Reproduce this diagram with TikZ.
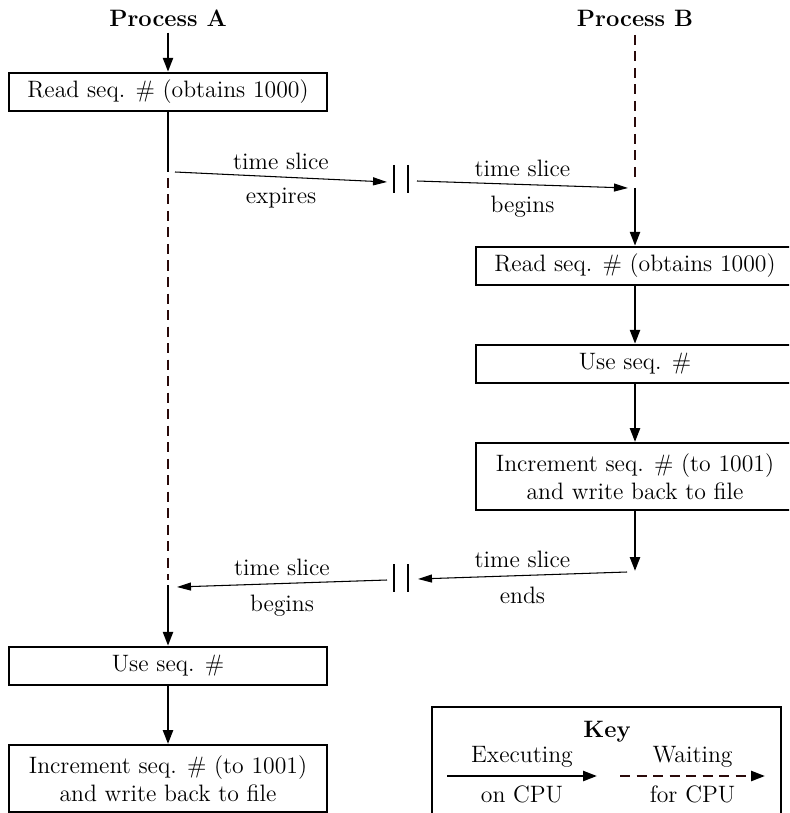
\documentclass[tikz,border=0pt]{standalone}
\usepackage{xcolor}
\definecolor{waitcolor}{HTML}{2A0A0A}
\usepackage{tikz}
\usetikzlibrary{positioning, calc, arrows.meta}

\begin{document}
\begin{tikzpicture}[
  font=\fontsize{13.5}{16}\selectfont,
  box/.style={draw, line width=1.1pt, minimum width=6.36cm, minimum height=#1,
    inner sep=0pt, align=center},
  box/.default=0.77cm,
  arr/.style={-{Triangle[length=0.28cm, width=0.2cm]}, line width=1.4pt},
  run/.style={line width=1.4pt},
  wait/.style={line width=1.4pt, color=waitcolor, dash pattern=on 0.2cm off 0.13cm},
  slice/.style={-{Triangle[length=0.28cm, width=0.16cm]}, line width=0.6pt},
  lbl/.style={inner sep=1pt},
]
  \useasboundingbox (0,0) rectangle (15.78,-16.26);
  \clip (0,0) rectangle (15.78,-16.26);

  % process A
  \node[font=\fontsize{13.5}{16}\selectfont\bfseries] (pa) at (3.36,-0.36) {Process A};
  \node[box] (reada) at (3.36,-1.84) {Read seq. \# (obtains 1000)};
  \node[box] (usea) at (3.36,-13.32) {Use seq. \#};
  \node[box=1.34cm] (inca) at (3.36,-15.57) {Increment seq. \# (to 1001)\\and write back to file};

  % process B
  \node[font=\fontsize{13.5}{16}\selectfont\bfseries] (pb) at (12.7,-0.36) {Process B};
  \node[box] (readb) at (12.7,-5.32) {Read seq. \# (obtains 1000)};
  \node[box] (useb) at (12.7,-7.28) {Use seq. \#};
  \node[box=1.34cm] (incb) at (12.7,-9.53) {Increment seq. \# (to 1001)\\and write back to file};

  \coordinate (a1) at (3.36,-3.44);
  \coordinate (a2) at (3.36,-3.56);
  \coordinate (a3) at (3.36,-11.6);
  \coordinate (a4) at (3.36,-11.7);
  \coordinate (b0) at (12.7,-0.7);
  \coordinate (b1) at (12.7,-3.62);
  \coordinate (b2) at (12.7,-3.76);
  \coordinate (b3) at (12.7,-11.42);

  \draw[arr] (pa) -- (reada);
  \draw[run] (reada) -- (a1);
  \draw[wait] (a2) -- (a3);
  \draw[arr] (a4) -- (usea);
  \draw[arr] (usea) -- (inca);

  \draw[wait] (b0) -- (b1);
  \draw[arr] (b2) -- (readb);
  \draw[arr] (readb) -- (useb);
  \draw[arr] (useb) -- (incb);
  \draw[arr] (incb) -- (b3);

  % time slice switches
  \coordinate (s1) at (3.5,-3.44);
  \coordinate (e1) at (7.74,-3.64);
  \coordinate (s2) at (8.34,-3.62);
  \coordinate (e2) at (12.56,-3.76);
  \coordinate (s3) at (12.54,-11.44);
  \coordinate (e3) at (8.36,-11.58);
  \coordinate (s4) at (7.74,-11.6);
  \coordinate (e4) at (3.54,-11.74);

  \draw[slice] (s1) -- (e1) node[midway, above=3pt, lbl] {time slice} node[midway, below=5pt, lbl] {expires};
  \draw[slice] (s2) -- (e2) node[midway, above=3pt, lbl] {time slice} node[midway, below=5pt, lbl] {begins};
  \draw[slice] (s3) -- (e3) node[midway, above=3pt, lbl] {time slice} node[midway, below=5pt, lbl] {ends};
  \draw[slice] (s4) -- (e4) node[midway, above=3pt, lbl] {time slice} node[midway, below=5pt, lbl] {begins};

  \foreach \y in {-3.58, -11.56} {
    \draw[line width=0.6pt] (7.88,\y+0.28) -- (7.88,\y-0.28);
    \draw[line width=0.6pt] (8.16,\y+0.28) -- (8.16,\y-0.28);
  }

  % key
  \node[draw, line width=0.8pt, minimum width=6.98cm, minimum height=2.4cm] (keybox) at (12.13,-15.34) {};
  \node[font=\fontsize{13.5}{16}\selectfont\bfseries] (key) at (12.14,-14.64) {Key};
  \coordinate (k1) at (8.94,-15.52);
  \coordinate (k2) at (11.94,-15.52);
  \coordinate (k3) at (12.4,-15.52);
  \coordinate (k4) at (15.3,-15.52);
  \draw[arr] (k1) -- (k2) node[midway, above=3pt, lbl] {Executing} node[midway, below=4pt, lbl] {on CPU};
  \draw[wait, -{Triangle[length=0.28cm, width=0.2cm, color=black]}] (k3) -- (k4)
    node[midway, above=3pt, lbl, text=black] {Waiting} node[midway, below=4pt, lbl, text=black] {for CPU};
\end{tikzpicture}
\end{document}
